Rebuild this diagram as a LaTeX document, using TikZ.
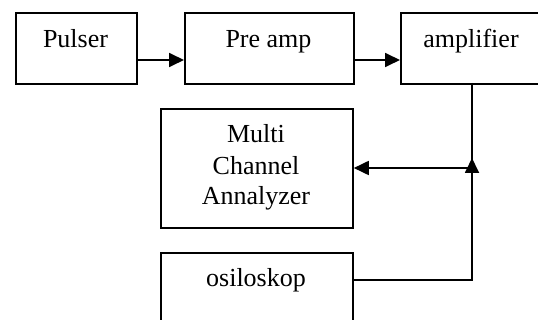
\documentclass[tikz,border=0pt]{standalone}
\usepackage{fontspec}
\setmainfont{Liberation Serif}
\usetikzlibrary{arrows.meta}
\begin{document}
\begin{tikzpicture}[x=1pt,y=-1pt,
  boxline/.style={draw=black,line width=1.8pt},
  lbl/.style={anchor=base,inner sep=0pt,font=\fontsize{26}{31}\selectfont},
  conn/.style={line width=1.8pt,-{Triangle[length=15pt,width=14pt]}},
  plain/.style={line width=1.8pt}]
\useasboundingbox (0,0) rectangle (538,320);
\clip (0,0) rectangle (538,320);
\fill[white] (0,0) rectangle (538,320);
% boxes
\node[boxline,anchor=north west,minimum width=121pt,minimum height=71pt,inner sep=0pt] (pulser) at (15,12) {};
\node[boxline,anchor=north west,minimum width=169pt,minimum height=71pt,inner sep=0pt] (preamp) at (184,12) {};
\node[boxline,anchor=north west,minimum width=142pt,minimum height=71pt,inner sep=0pt] (amp) at (400,12) {};
\node[boxline,anchor=north west,minimum width=192pt,minimum height=119pt,inner sep=0pt] (mca) at (160,108) {};
\node[boxline,anchor=north west,minimum width=192pt,minimum height=80pt,inner sep=0pt] (osc) at (160,252) {};
% texts
\node[lbl] (pulsertxt) at (75.5,48) {Pulser};
\node[lbl] (preamptxt) at (268.5,48) {Pre amp};
\node[lbl] (amptxt) at (471,48) {amplifier};
\node[lbl] (mcatxt1) at (256,143) {Multi};
\node[lbl] (mcatxt2) at (256,175) {Channel};
\node[lbl] (mcatxt3) at (256,205) {Annalyzer};
\node[lbl] (osctxt) at (256,287) {osiloskop};
% junction coordinates
\coordinate (ampout) at (472,83);
\coordinate (junc) at (472,168);
\coordinate (tip) at (472,158);
\coordinate (corner) at (472,280);
% connectors
\draw[conn] (pulser.east |- 0,60) -- (preamp.west |- 0,60);
\draw[conn] (preamp.east |- 0,60) -- (amp.west |- 0,60);
\draw[plain] (ampout) -- (junc);
\draw[conn] (junc) -- (mca.east |- junc);
\draw[conn] (osc.east |- corner) -- (corner) -- (tip);
\end{tikzpicture}
\end{document}
